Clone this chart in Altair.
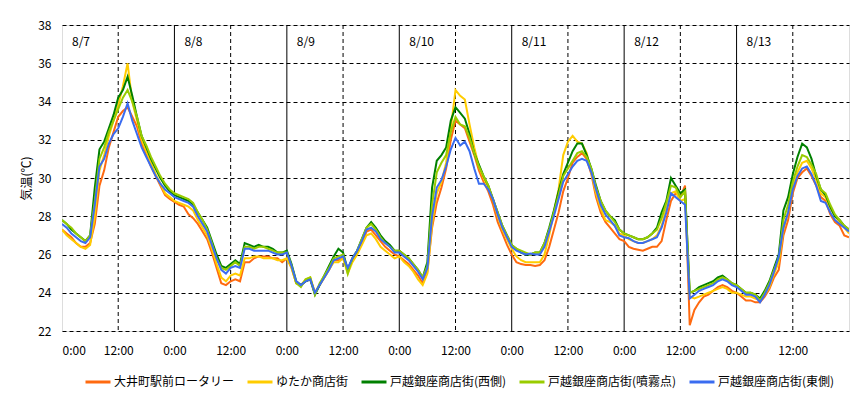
import altair as alt
import pandas as pd

FONT = "Noto Sans CJK JP"

series_names = [
    "大井町駅前ロータリー",
    "ゆたか商店街",
    "戸越銀座商店街(西側)",
    "戸越銀座商店街(噴霧点)",
    "戸越銀座商店街(東側)",
]
colors = ["#ff6a10", "#ffcc00", "#008000", "#99cc00", "#3a6cf0"]

hours = list(range(169))

oi = [27.3, 27.1, 26.9, 26.6, 26.4, 26.4, 26.6, 27.6, 29.6, 30.4, 31.6, 32.4, 33.2, 33.5, 33.7, 33.2, 32.7, 31.8, 31.2, 30.6, 30.1, 29.6, 29.1, 28.9,
      28.75, 28.6, 28.5, 28.1, 27.9, 27.6, 27.2, 26.8, 26.1, 25.3, 24.5, 24.4, 24.6, 24.7, 24.6, 25.6, 25.6, 25.8, 25.9, 25.9, 25.9, 25.8, 25.8, 25.6,
      25.8, 25.3, 24.5, 24.4, 24.6, 24.7, 24.0, 24.4, 24.8, 25.2, 25.7, 25.7, 25.8, 25.2, 25.8, 26.1, 26.6, 27.2, 27.3, 27.0, 26.7, 26.4, 26.2, 26.0,
      25.9, 25.7, 25.5, 25.2, 24.9, 24.5, 25.1, 27.4, 28.7, 29.5, 30.5, 32.0, 33.0, 32.8, 32.6, 31.9, 31.2, 30.4, 29.8, 29.3, 28.6, 27.7, 27.1, 26.5,
      26.0, 25.6, 25.5, 25.45, 25.45, 25.4, 25.45, 25.7, 26.4, 27.3, 28.2, 29.3, 30.0, 30.8, 31.1, 31.3, 31.0, 30.2, 29.0, 28.2, 27.7, 27.4, 27.1, 26.8,
      26.7, 26.4, 26.3, 26.25, 26.2, 26.3, 26.4, 26.4, 26.7, 27.8, 28.8, 29.2, 29.0, 29.6, 22.3, 23.1, 23.5, 23.8, 23.9, 24.1, 24.3, 24.4, 24.3, 24.1,
      24.0, 23.8, 23.6, 23.6, 23.5, 23.5, 23.8, 24.2, 24.8, 25.2, 27.0, 27.8, 29.2, 30.0, 30.3, 30.5, 30.1, 29.6, 29.0, 28.8, 28.1, 27.7, 27.5, 27.0, 26.9]

yt = [27.3, 27.0, 26.8, 26.6, 26.4, 26.3, 26.5, 28.0, 30.4, 31.2, 32.2, 33.0, 33.8, 34.8, 36.0, 34.0, 33.0, 32.0, 31.4, 30.8, 30.2, 29.7, 29.2, 29.0,
      28.8, 28.7, 28.6, 28.5, 28.3, 27.8, 27.4, 27.0, 26.3, 25.5, 24.8, 24.6, 24.9, 25.0, 24.9, 25.8, 25.8, 25.9, 25.9, 25.8, 25.8, 25.8, 25.7, 25.7,
      25.8, 25.3, 24.5, 24.4, 24.7, 24.8, 24.0, 24.4, 24.8, 25.2, 25.6, 25.6, 25.8, 25.0, 25.6, 26.0, 26.5, 27.0, 27.1, 26.8, 26.4, 26.2, 26.0, 25.8,
      25.9, 25.6, 25.4, 25.1, 24.7, 24.4, 25.0, 27.6, 29.2, 29.8, 30.8, 32.6, 34.6, 34.3, 34.1, 32.8, 31.6, 30.6, 30.0, 29.5, 28.9, 28.0, 27.3, 26.8,
      26.3, 25.9, 25.7, 25.6, 25.6, 25.6, 25.6, 26.0, 27.0, 28.2, 29.4, 31.2, 31.9, 32.2, 31.9, 31.8, 31.3, 30.3, 29.2, 28.4, 27.8, 27.7, 27.5, 27.1,
      27.0, 26.8, 26.7, 26.6, 26.6, 26.7, 26.8, 27.0, 27.5, 28.4, 29.2, 29.3, 28.8, 28.9, 23.8, 23.7, 23.8, 23.9, 24.0, 24.1, 24.2, 24.3, 24.2, 24.0,
      24.0, 23.9, 23.8, 23.8, 23.7, 23.6, 23.9, 24.3, 25.0, 25.6, 27.3, 28.2, 29.5, 30.3, 30.8, 30.9, 30.5, 29.9, 29.2, 29.0, 28.4, 28.0, 27.7, 27.4, 27.1]

wn = [27.8, 27.6, 27.3, 27.1, 26.9, 26.7, 27.0, 29.5, 31.5, 31.9, 32.6, 33.3, 34.2, 34.6, 35.3, 34.3, 33.2, 32.2, 31.6, 31.0, 30.5, 30.0, 29.6, 29.3,
      29.1, 29.0, 28.9, 28.8, 28.6, 28.2, 27.8, 27.4, 26.7, 26.0, 25.4, 25.3, 25.5, 25.7, 25.5, 26.6, 26.5, 26.4, 26.5, 26.4, 26.4, 26.3, 26.1, 26.1,
      26.2, 25.5, 24.6, 24.4, 24.6, 24.7, 23.9, 24.4, 24.9, 25.4, 25.9, 26.3, 26.1, 25.2, 25.8, 26.2, 26.8, 27.4, 27.7, 27.4, 27.0, 26.7, 26.5, 26.2,
      26.2, 26.0, 25.8, 25.5, 25.2, 24.8, 25.6, 29.5, 30.9, 31.2, 31.6, 33.0, 33.7, 33.4, 33.1, 32.3, 31.3, 30.7, 30.1, 29.6, 28.9, 28.2, 27.5, 27.0,
      26.5, 26.3, 26.1, 26.0, 26.0, 26.1, 26.1, 26.6, 27.4, 28.3, 29.3, 30.2, 30.8, 31.4, 31.8, 31.8, 31.2, 30.5, 29.6, 28.8, 28.3, 28.0, 27.8, 27.3,
      27.1, 27.0, 26.9, 26.8, 26.8, 26.9, 27.1, 27.4, 28.2, 28.8, 30.0, 29.6, 29.2, 29.4, 24.0, 24.1, 24.3, 24.4, 24.5, 24.6, 24.8, 24.9, 24.7, 24.5,
      24.4, 24.2, 24.0, 24.0, 23.9, 23.7, 24.1, 24.6, 25.3, 26.0, 28.3, 29.0, 30.2, 31.1, 31.8, 31.6, 31.0, 30.1, 29.4, 29.1, 28.5, 28.0, 27.8, 27.5, 27.3]

fn = [27.8, 27.6, 27.4, 27.1, 26.9, 26.7, 27.0, 28.8, 31.0, 31.6, 32.4, 33.0, 33.6, 34.2, 34.6, 34.0, 33.2, 32.2, 31.7, 31.1, 30.6, 30.1, 29.7, 29.4,
      29.2, 29.1, 29.0, 28.9, 28.7, 28.2, 27.8, 27.3, 26.6, 25.8, 25.3, 25.2, 25.4, 25.6, 25.4, 26.4, 26.4, 26.3, 26.4, 26.4, 26.3, 26.2, 26.1, 26.1,
      26.1, 25.4, 24.5, 24.3, 24.7, 24.8, 23.9, 24.5, 24.9, 25.3, 25.8, 25.9, 26.0, 25.0, 25.8, 26.2, 26.8, 27.4, 27.6, 27.3, 26.9, 26.6, 26.4, 26.2,
      26.2, 26.0, 25.8, 25.5, 25.2, 24.8, 25.4, 28.6, 30.3, 30.8, 31.2, 32.4, 33.2, 32.8, 32.7, 32.1, 31.3, 30.6, 30.1, 29.6, 28.9, 28.2, 27.5, 27.0,
      26.5, 26.3, 26.2, 26.1, 26.0, 26.1, 26.1, 26.6, 27.3, 28.2, 29.1, 30.1, 30.5, 30.9, 31.3, 31.4, 31.1, 30.5, 29.5, 28.8, 28.3, 28.0, 27.7, 27.3,
      27.1, 27.0, 26.9, 26.8, 26.8, 26.9, 27.1, 27.3, 27.9, 28.7, 29.6, 29.5, 29.0, 29.3, 24.0, 24.1, 24.2, 24.3, 24.4, 24.5, 24.7, 24.8, 24.7, 24.5,
      24.4, 24.2, 24.0, 24.0, 23.9, 23.6, 24.0, 24.5, 25.2, 25.8, 27.8, 28.6, 29.8, 30.6, 31.2, 31.1, 30.7, 30.2, 29.4, 29.2, 28.6, 28.1, 27.8, 27.5, 27.3]

ht = [27.6, 27.4, 27.1, 26.9, 26.7, 26.6, 26.9, 28.6, 30.6, 31.0, 31.8, 32.3, 32.6, 33.2, 33.9, 33.0, 32.3, 31.6, 31.1, 30.6, 30.1, 29.7, 29.4, 29.2,
      29.0, 28.9, 28.8, 28.7, 28.5, 28.0, 27.6, 27.2, 26.5, 25.8, 25.2, 25.0, 25.3, 25.4, 25.3, 26.3, 26.3, 26.2, 26.2, 26.2, 26.2, 26.1, 26.0, 26.0,
      26.1, 25.4, 24.6, 24.4, 24.6, 24.7, 24.0, 24.4, 24.8, 25.2, 25.7, 25.8, 25.9, 25.3, 25.8, 26.2, 26.7, 27.3, 27.4, 27.2, 26.8, 26.6, 26.4, 26.1,
      26.1, 25.9, 25.7, 25.4, 25.1, 24.7, 25.3, 28.0, 29.5, 29.9, 30.6, 31.5, 32.1, 31.7, 31.9, 31.4, 30.5, 29.7, 29.7, 29.4, 28.9, 28.1, 27.4, 26.9,
      26.4, 26.2, 26.1, 26.0, 26.05, 26.0, 26.0, 26.4, 27.2, 28.0, 28.9, 29.8, 30.2, 30.6, 30.9, 31.0, 30.9, 30.3, 29.4, 28.6, 28.1, 27.8, 27.5, 27.0,
      26.9, 26.85, 26.7, 26.6, 26.6, 26.7, 26.8, 26.9, 27.4, 28.2, 29.2, 29.0, 28.8, 28.6, 23.7, 23.9, 24.1, 24.2, 24.3, 24.4, 24.6, 24.7, 24.6, 24.4,
      24.3, 24.1, 23.9, 23.9, 23.8, 23.5, 23.9, 24.4, 25.1, 25.9, 27.4, 28.2, 29.4, 30.1, 30.5, 30.6, 30.2, 29.6, 28.8, 28.7, 28.2, 27.8, 27.6, 27.4, 27.2]

y_ticks = [22, 24, 26, 28, 30, 32, 34, 36, 38]
x_ticks = [0, 12, 24, 36, 48, 60, 72, 84, 96, 108, 120, 132, 144, 156]
day_starts = [0, 24, 48, 72, 96, 120, 144]
day_labels = ["8/7", "8/8", "8/9", "8/10", "8/11", "8/12", "8/13"]
day_label_temp = [37.1, 37.1, 37.1, 37.1, 37.1, 37.1, 37.1]
day_lines = [24, 48, 72, 96, 120, 144]
noon_lines = [12, 36, 60, 84, 108, 132, 156]

rows = []
for name, vals in zip(series_names, [oi, yt, wn, fn, ht]):
    for h, v in zip(hours, vals):
        rows.append({"hour": h, "temp": v, "series": name})
df = pd.DataFrame(rows)

xscale = alt.Scale(domain=[0, 168], nice=False, zero=False)
yscale = alt.Scale(domain=[22, 38], nice=False, zero=False)

x_axis = alt.Axis(values=x_ticks,
                  labelExpr="datum.value % 24 == 0 ? '0:00' : '12:00'",
                  grid=False, ticks=False, tickSize=0, domain=False,
                  labelPadding=14, title=None, labelFontSize=12,
                  labelColor="black", labelFont=FONT, labelOverlap=False)
y_axis = alt.Axis(values=y_ticks, grid=True, gridDash=[4, 3],
                  gridColor="black", gridOpacity=1, gridWidth=1,
                  ticks=False, tickSize=0, domain=False, labelPadding=11,
                  labelFontSize=12, labelColor="black", labelFont=FONT,
                  labelOverlap=False,
                  title="気温(℃)", titleFont=FONT, titleFontSize=12,
                  titleFontWeight="normal", titleColor="black",
                  titlePadding=4)

x_enc = alt.X("hour:Q", scale=xscale, axis=x_axis)
y_enc = alt.Y("temp:Q", scale=yscale, axis=y_axis)

noon = alt.Chart(pd.DataFrame({"hour": noon_lines})).mark_rule(
    color="black", strokeWidth=1, strokeDash=[4, 3]
).encode(x=x_enc)

days = alt.Chart(pd.DataFrame({"hour": day_lines})).mark_rule(
    color="black", strokeWidth=1
).encode(x=x_enc)

lines = alt.Chart(df).mark_line(strokeWidth=2, clip=True).encode(
    x=x_enc,
    y=y_enc,
    color=alt.Color("series:N",
                    scale=alt.Scale(domain=series_names, range=colors),
                    sort=series_names,
                    legend=alt.Legend(title=None, orient="none",
                                      direction="horizontal",
                                      legendX=22, legendY=343,
                                      symbolType="stroke", symbolSize=625,
                                      symbolStrokeWidth=3, labelFontSize=12,
                                      labelFont=FONT, labelColor="black",
                                      labelOffset=2, columnPadding=6,
                                      labelLimit=300)),
)

labels = alt.Chart(pd.DataFrame({"hour": day_starts, "temp": day_label_temp,
                                 "label": day_labels})).mark_text(
    align="left", baseline="middle", dx=10, fontSize=12, font=FONT, color="black"
).encode(x=x_enc, y=y_enc, text="label:N")

chart = alt.layer(noon, days, lines, labels).properties(
    width=787, height=306,
    autosize=alt.AutoSizeParams(type="none"),
    padding={"left": 54, "top": 17, "right": 8, "bottom": 64},
).configure_view(stroke="black", strokeWidth=2).configure(font=FONT)

chart.save("out.html", embed_options={"renderer": "svg", "actions": False})
